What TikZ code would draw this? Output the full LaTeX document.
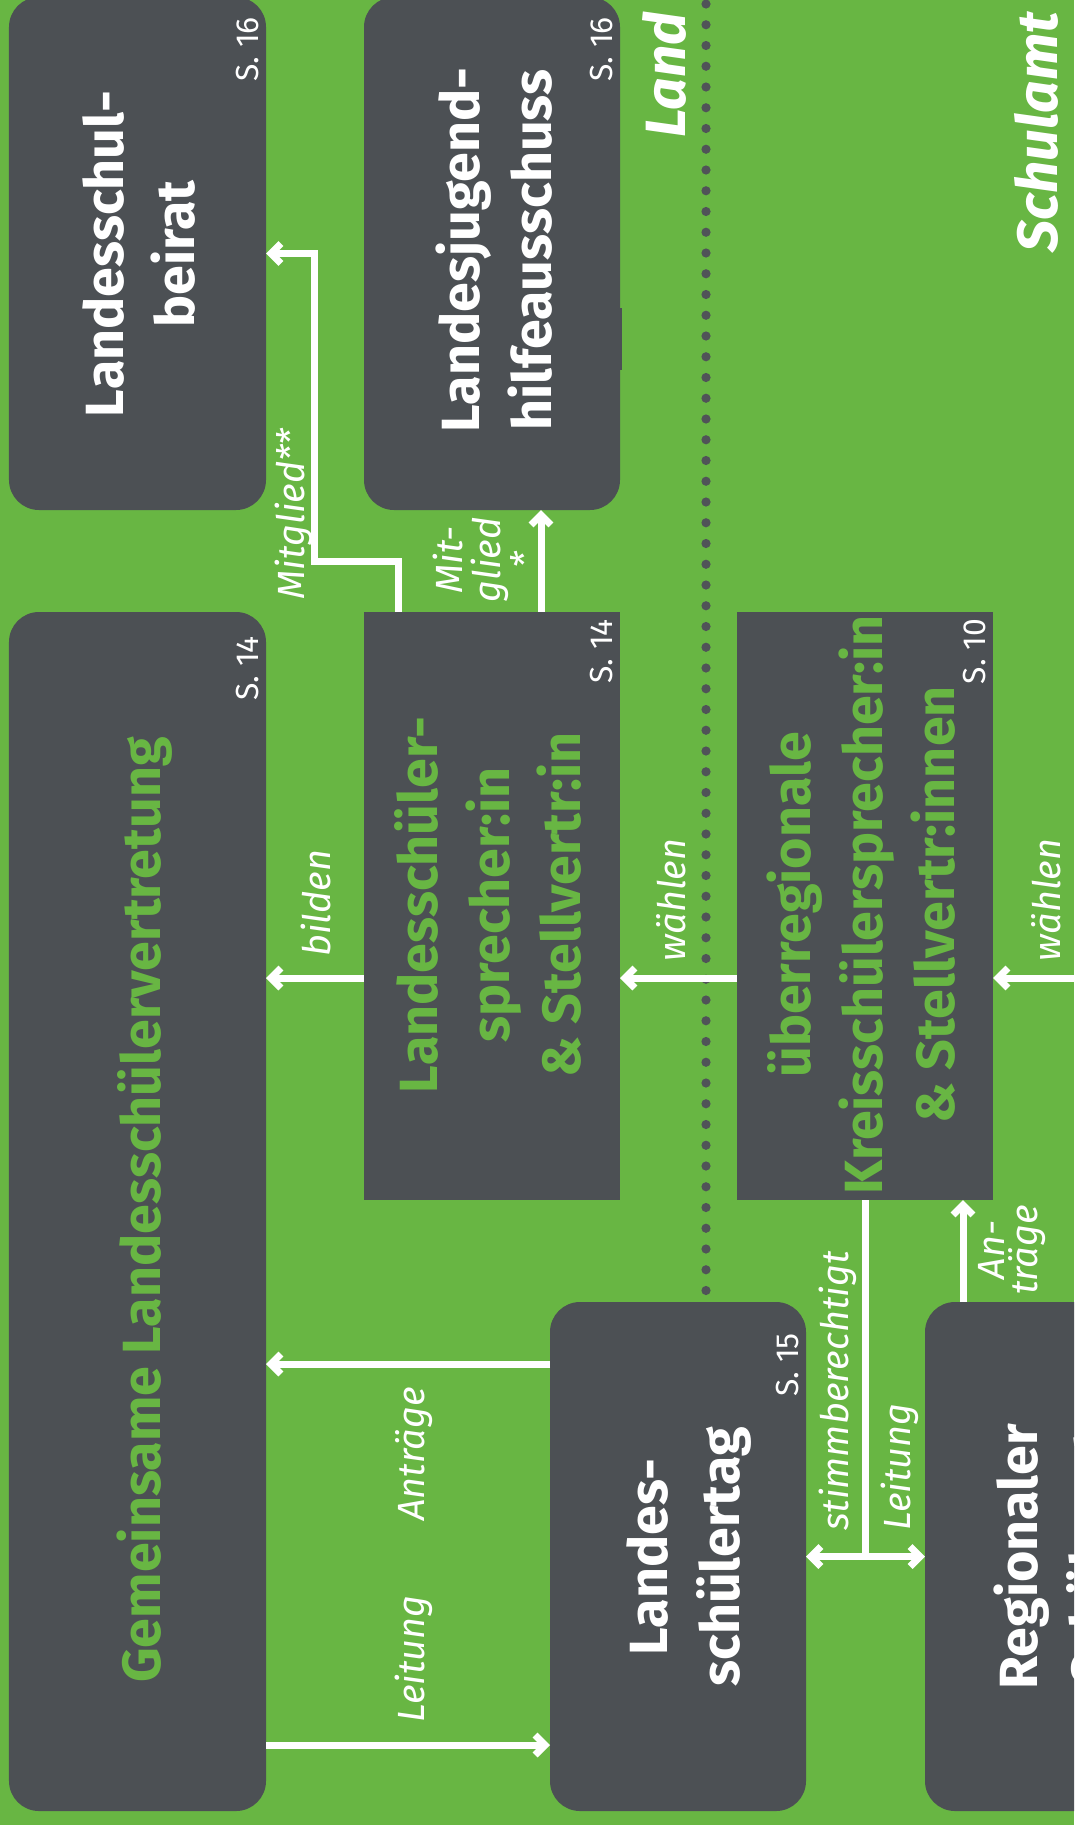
\documentclass[tikz,border=0pt]{standalone}
\usepackage{fontspec}
\setmainfont{Fira Sans}
\usetikzlibrary{arrows.meta,calc}
\definecolor{bggreen}{RGB}{104,182,67}
\definecolor{boxgray}{RGB}{76,80,84}
\definecolor{dotgray}{RGB}{80,83,88}
\tikzset{
	darkbox/.style={fill=boxgray, inner sep=0pt, outer sep=0pt},
	roundbox/.style={darkbox, rounded corners=30bp},
	boxtitle/.style={rotate=90, align=center, inner sep=0pt, text=white, font=\bfseries\fontsize{54}{72}\selectfont},
	greentitle/.style={boxtitle, text=bggreen},
	pagenr/.style={rotate=90, anchor=base east, inner sep=0pt, text=white, font=\fontsize{32}{32}\selectfont},
	arrowlabel/.style={rotate=90, anchor=base, inner sep=0pt, text=white, align=center, font=\itshape\fontsize{38}{38}\selectfont},
	arealabel/.style={rotate=90, anchor=base east, inner sep=0pt, text=white, font=\bfseries\itshape\fontsize{57}{57}\selectfont},
	link/.style={draw=white, line width=7bp, -{Straight Barb[length=10bp,width=20bp]}},
	twoway/.style={link, {Straight Barb[length=10bp,width=20bp]}-{Straight Barb[length=10bp,width=20bp]}},
}

\begin{document}
\begin{tikzpicture}[x=1bp, y=-1bp]
	%%%%% START %%%%%
	\useasboundingbox (0,0) rectangle (1074,1825);
	\fill[bggreen] (0,0) rectangle (1074,1825);
	\clip (0,0) rectangle (1074,1825);
	
	% Trennlinie Land / Schulamt
	\foreach \k in {0,...,62}
		\fill[dotgray] (706, 4+\k*20.75) circle (4.6);
	\node[arealabel] (land) at (685,12) {Land};
	\node[arealabel] (schulamt) at (1057,12) {Schulamt};
	
	% Kaesten
	\node[roundbox, minimum width=257bp, minimum height=513bp] (beirat) at (137.5,253.5) {};
	\node[roundbox, minimum width=256bp, minimum height=513bp] (jugend) at (492,253.5) {};
	\fill[boxgray] ($(jugend.north east)+(0,311)$) rectangle ++(2,62);
	\node[roundbox, minimum width=257bp, minimum height=1199bp] (glsv) at (137.5,1211.5) {};
	\node[darkbox, minimum width=256bp, minimum height=588bp] (lsp) at (492,906) {};
	\node[darkbox, minimum width=256bp, minimum height=588bp] (ksp) at (865,906) {};
	\node[roundbox, minimum width=256bp, minimum height=509bp] (lst) at (678,1556.5) {};
	\node[roundbox, minimum width=257bp, minimum height=509bp] (rsr) at (1053.5,1556.5) {};
	
	\node[boxtitle] (beirat-t) at (139,254) {Landesschul-\\beirat};
	\node[boxtitle] (jugend-t) at (494,250) {Landesjugend-\\hilfeausschuss};
	\node[boxtitle, text=bggreen, anchor=base] (glsv-t) at (160,1210) {Gemeinsame Landesschülervertretung};
	\node[greentitle] (lsp-t) at (488,905) {Landesschüler-\\sprecher:in\\\& Stellvertr:in};
	\node[greentitle] (ksp-t) at (861,905) {überregionale\\Kreisschülersprecher:in\\\& Stellvertr:innen};
	\node[boxtitle] (lst-t) at (689,1557) {Landes-\\schülertag};
	\node[boxtitle] (rsr-t) at (1052,1557) {Regionaler\\Schülerrat};
	
	\node[pagenr] (beirat-s) at (258,17) {S. 16};
	\node[pagenr] (jugend-s) at (612,17) {S. 16};
	\node[pagenr] (glsv-s) at (258,636) {S. 14};
	\node[pagenr] (lsp-s) at (612,619) {S. 14};
	\node[pagenr] (ksp-s) at (985,619) {S. 10};
	\node[pagenr] (lst-s) at (798,1333) {S. 15};
	
	% Verbindungen
	\draw[link] ([xshift=34bp]lsp.north west) -- ++(0,-51) -| ($(beirat.east)+(48,0)$) -- (beirat.east);
	\draw[link] ([xshift=177bp]lsp.north west) -- ([xshift=177bp]jugend.south west);
	\draw[link] ([yshift=-72bp]lsp.west) -- ([yshift=-72bp]lsp.west -| glsv.east);
	\draw[link] ([yshift=-72bp]ksp.west) -- ([yshift=-72bp]ksp.west -| lsp.east);
	\coordinate (rand) at (1074,978);
	\draw[link] (rand) -- (rand -| ksp.east);
	\draw[link] ([yshift=192.5bp]lst.west) -- ([yshift=192.5bp]lst.west -| glsv.east);
	\draw[link] ([yshift=-188.5bp]lst.west -| glsv.east) -- ([yshift=-188.5bp]lst.west);
	\draw[white, line width=7bp] (ksp.south) -- (ksp.south |- lst.east);
	\draw[twoway] (lst.east) -- (lst.east -| rsr.west);
	\draw[link] ([xshift=38bp]rsr.north west) -- ([xshift=38bp]rsr.north west |- ksp.south);
	
	\node[arrowlabel] (mitglied2) at (304,514) {Mitglied**};
	\node[arrowlabel, anchor=center, font=\itshape\fontsize{38}{38}\selectfont] (mitglied1) at (486,560) {Mit-\\glied\\*};
	\node[arrowlabel] (bilden) at (330,903) {bilden};
	\node[arrowlabel] (waehlen1) at (685,900) {wählen};
	\node[arrowlabel] (waehlen2) at (1060,900) {wählen};
	\node[arrowlabel] (antraege1) at (424,1454) {Anträge};
	\node[arrowlabel] (leitung1) at (424,1659) {Leitung};
	\node[arrowlabel] (stimm) at (848,1391) {stimmberechtigt};
	\node[arrowlabel] (leitung2) at (910,1467) {Leitung};
	\node[arrowlabel, anchor=center, font=\itshape\fontsize{38}{34}\selectfont] (antraege2) at (1012,1250) {An-\\träge};
	
	%%%%% END %%%%%
\end{tikzpicture}
\end{document}
